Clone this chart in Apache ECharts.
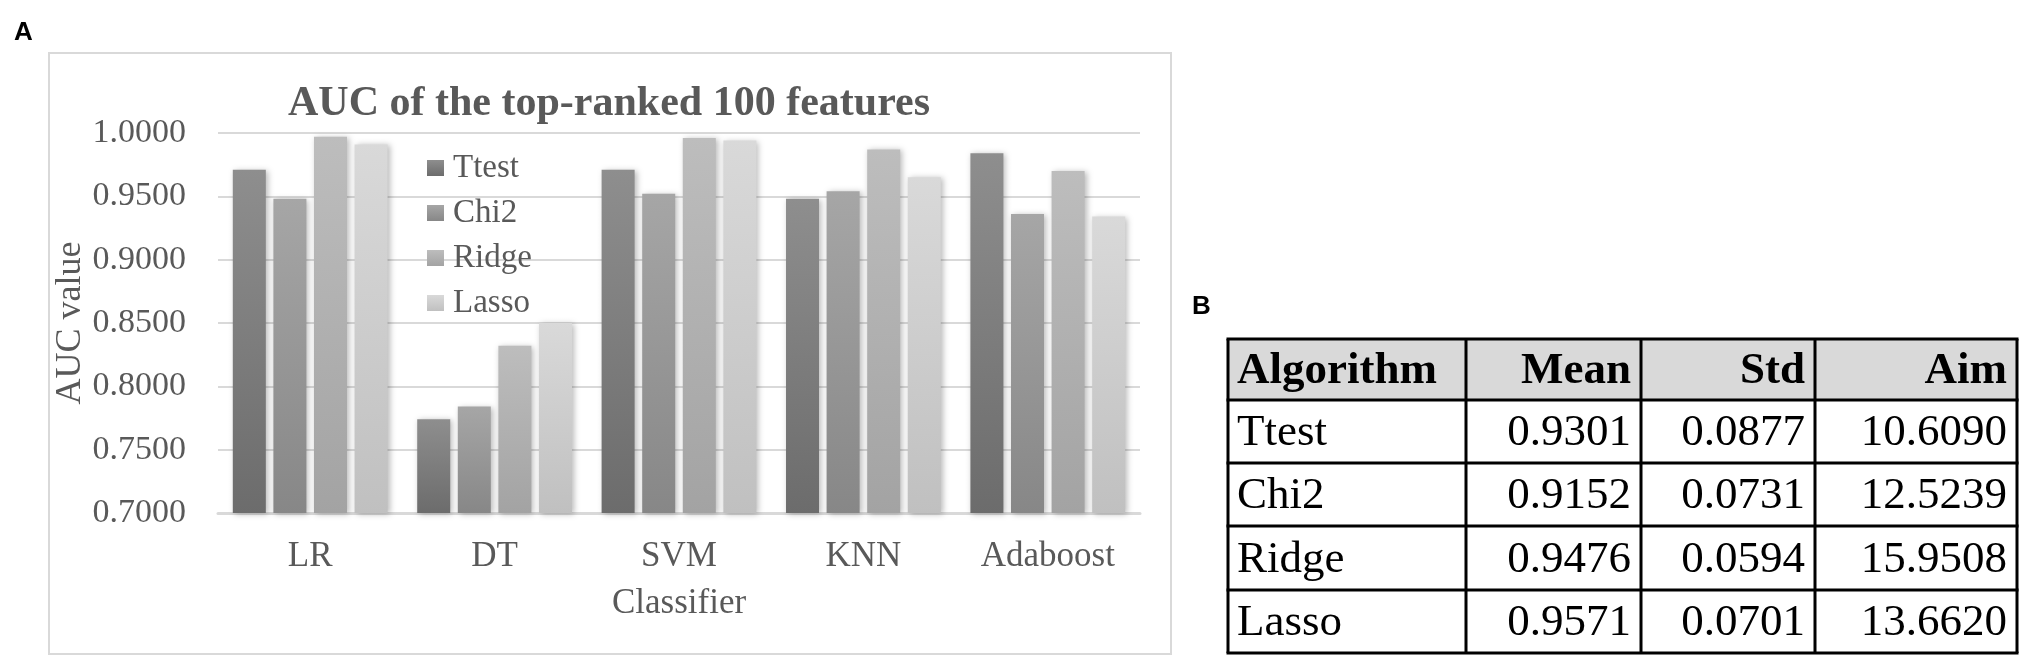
<!DOCTYPE html>
<html>
<head>
<meta charset="UTF-8">
<title>AUC of the top-ranked 100 features</title>
<script src="https://cdn.jsdelivr.net/npm/echarts@6/dist/echarts.min.js"></script>
<style>
  html, body { margin: 0; padding: 0; background: #fff; }
  #main { width: 2033px; height: 667px; }
</style>
</head>
<body>
<div id="main"></div>
<script>
// chart data
var categories = ['LR', 'DT', 'SVM', 'KNN', 'Adaboost'];
var seriesNames = ['Ttest', 'Chi2', 'Ridge', 'Lasso'];
var ttest = [0.971, 0.774, 0.971, 0.948, 0.984];
var chi2  = [0.948, 0.784, 0.952, 0.954, 0.936];
var ridge = [0.997, 0.832, 0.996, 0.987, 0.970];
var lasso = [0.991, 0.850, 0.994, 0.965, 0.934];
var yMin = 0.70, yMax = 1.00, yStep = 0.05;

// table B
var tableHeader = ['Algorithm', 'Mean', 'Std', 'Aim'];
var tableAlgo = ['Ttest', 'Chi2', 'Ridge', 'Lasso'];
var tableMean = ['0.9301', '0.9152', '0.9476', '0.9571'];
var tableStd  = ['0.0877', '0.0731', '0.0594', '0.0701'];
var tableAim  = ['10.6090', '12.5239', '15.9508', '13.6620'];

var serif = '"Liberation Serif", "Times New Roman", serif';
var textGray = '#595959';

// gradient per series, top -> bottom
var barColors = [
    ['#8e8e8e', '#6c6c6c'],
    ['#a6a6a6', '#878787'],
    ['#bdbdbd', '#a3a3a3'],
    ['#d9d9d9', '#c0c0c0']
];

function grad(c) {
    return new echarts.graphic.LinearGradient(0, 0, 0, 1, [
        { offset: 0, color: c[0] },
        { offset: 1, color: c[1] }
    ]);
}

var values = [ttest, chi2, ridge, lasso];
var series = [];
for (var i = 0; i < seriesNames.length; i++) {
    series.push({
        name: seriesNames[i],
        type: 'bar',
        barWidth: 33,
        barGap: '23%',
        data: values[i],
        itemStyle: {
            color: grad(barColors[i]),
            shadowBlur: 6,
            shadowColor: 'rgba(0,0,0,0.28)',
            shadowOffsetX: 2,
            shadowOffsetY: 1
        }
    });
}

// table drawn with graphic elements
var colX = [1228, 1466, 1641, 1815, 2017];
var rowY = [339, 400, 463, 526, 590, 653];
var tableFont = 45;
var graphics = [];

graphics.push({
    type: 'rect', silent: true,
    shape: { x: 49, y: 53, width: 1122, height: 601 },
    style: { fill: 'none', stroke: '#d9d9d9', lineWidth: 2 }
});
graphics.push({
    type: 'text', silent: true, x: 14, y: 20,
    style: { text: 'A', font: 'bold 26px "Liberation Sans", Arial, sans-serif', fill: '#000' }
});
graphics.push({
    type: 'text', silent: true, x: 1192, y: 294,
    style: { text: 'B', font: 'bold 26px "Liberation Sans", Arial, sans-serif', fill: '#000' }
});
graphics.push({
    type: 'rect', silent: true,
    shape: { x: colX[0], y: rowY[0], width: colX[4] - colX[0], height: rowY[1] - rowY[0] },
    style: { fill: '#d9d9d9' }
});

var cols = [tableAlgo, tableMean, tableStd, tableAim];
for (var c = 0; c < 4; c++) {
    var alignLeft = (c === 0);
    var tx = alignLeft ? colX[c] + 9 : colX[c + 1] - 10;
    graphics.push({
        type: 'text', silent: true, x: tx, y: (rowY[0] + rowY[1]) / 2 + 2,
        style: {
            text: tableHeader[c], fill: '#000',
            font: 'bold ' + tableFont + 'px ' + serif,
            align: alignLeft ? 'left' : 'right', verticalAlign: 'middle'
        }
    });
    for (var r = 0; r < tableAlgo.length; r++) {
        graphics.push({
            type: 'text', silent: true, x: tx, y: (rowY[r + 1] + rowY[r + 2]) / 2 + 2,
            style: {
                text: cols[c][r], fill: '#000',
                font: tableFont + 'px ' + serif,
                align: alignLeft ? 'left' : 'right', verticalAlign: 'middle'
            }
        });
    }
}
for (var k = 0; k < rowY.length; k++) {
    graphics.push({
        type: 'line', silent: true,
        shape: { x1: colX[0] - 1.5, y1: rowY[k], x2: colX[4] + 1.5, y2: rowY[k] },
        style: { stroke: '#000', lineWidth: 3 }
    });
}
for (var m = 0; m < colX.length; m++) {
    graphics.push({
        type: 'line', silent: true,
        shape: { x1: colX[m], y1: rowY[0], x2: colX[m], y2: rowY[rowY.length - 1] },
        style: { stroke: '#000', lineWidth: 3 }
    });
}

var myChart = echarts.init(document.getElementById('main'), null, { renderer: 'canvas' });
var option = {
    backgroundColor: '#fff',
    animation: false,
    title: {
        text: 'AUC of the top-ranked 100 features',
        left: 609,
        top: 83,
        textAlign: 'center',
        padding: 0,
        textStyle: { fontFamily: serif, fontWeight: 'bold', fontSize: 42, color: textGray }
    },
    legend: {
        orient: 'vertical',
        left: 427,
        top: 151,
        itemWidth: 17,
        itemHeight: 16,
        itemGap: 11,
        icon: 'rect',
        padding: 0,
        textStyle: { fontFamily: serif, fontSize: 33, color: textGray, lineHeight: 34, padding: [0, 0, 0, 4] },
        data: seriesNames
    },
    grid: { left: 218, right: 893, top: 133, bottom: 154 },
    xAxis: {
        type: 'category',
        data: categories,
        name: 'Classifier',
        nameLocation: 'middle',
        nameGap: 73,
        nameTextStyle: { fontFamily: serif, fontSize: 35, color: textGray },
        axisLine: { lineStyle: { color: '#d9d9d9', width: 3 } },
        axisTick: { show: false },
        axisLabel: { fontFamily: serif, fontSize: 35, color: textGray, margin: 26 }
    },
    yAxis: {
        type: 'value',
        min: yMin,
        max: yMax,
        interval: yStep,
        name: 'AUC value',
        nameLocation: 'middle',
        nameGap: 128,
        nameTextStyle: { fontFamily: serif, fontSize: 36, color: textGray },
        axisLine: { show: false },
        axisTick: { show: false },
        splitLine: { lineStyle: { color: '#d9d9d9', width: 2 } },
        axisLabel: {
            fontFamily: serif, fontSize: 34, color: textGray, margin: 32,
            formatter: function (v) { return v.toFixed(4); }
        }
    },
    graphic: graphics,
    series: series
};
myChart.setOption(option);
</script>
</body>
</html>
